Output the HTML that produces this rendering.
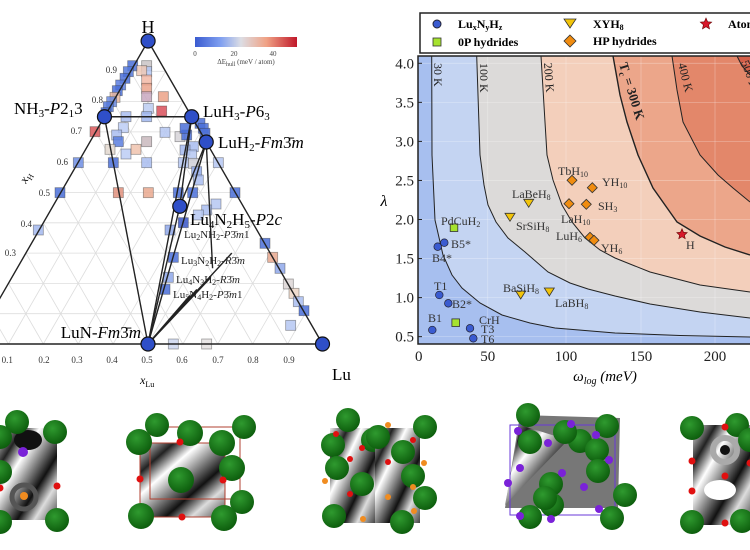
<!DOCTYPE html>
<html><head><meta charset="utf-8"><style>
html,body{margin:0;padding:0;background:#fff;}
svg{display:block;font-family:"Liberation Serif",serif;}
</style></head><body>
<svg id="s" width="750" height="550" viewBox="0 0 750 550" xmlns="http://www.w3.org/2000/svg">
<defs>
<linearGradient id="cb" x1="0" x2="1" y1="0" y2="0">
<stop offset="0" stop-color="#3a5bd0"/><stop offset="0.25" stop-color="#7f9ff0"/><stop offset="0.45" stop-color="#dcdde4"/><stop offset="0.7" stop-color="#f0a285"/><stop offset="1" stop-color="#c0182a"/>
</linearGradient>
<radialGradient id="gs" cx="0.4" cy="0.35" r="0.7"><stop offset="0" stop-color="#2f9a2f"/><stop offset="1" stop-color="#0b5a0b"/></radialGradient>
<linearGradient id="pan" x1="0" y1="0" x2="1" y2="1">
<stop offset="0" stop-color="#eee"/><stop offset="0.2" stop-color="#222"/><stop offset="0.35" stop-color="#fff"/><stop offset="0.5" stop-color="#888"/><stop offset="0.65" stop-color="#111"/><stop offset="0.8" stop-color="#ddd"/><stop offset="1" stop-color="#444"/>
</linearGradient>
<clipPath id="pc"><rect x="418" y="56" width="332" height="288"/></clipPath>
</defs>
<g id="tern"></g>
<g id="right"></g>
<g id="bottom"></g>
</svg>
<script>
var NS="http://www.w3.org/2000/svg";
function el(p,t,a,txt){var e=document.createElementNS(NS,t);for(var k in a)e.setAttribute(k,a[k]);if(txt!==undefined)e.innerHTML=txt;p.appendChild(e);return e;}
var T=document.getElementById('tern'),R=document.getElementById('right'),B=document.getElementById('bottom');
// ternary coordinate
function P(l,h){return [-26.5+l*349+h*174.6,344-h*303];}
// grid
for(var i=1;i<10;i++){var v=i/10;
 var a=P(0,v),b=P(1-v,v);el(T,'line',{x1:a[0],y1:a[1],x2:b[0],y2:b[1],stroke:'#ddd','stroke-width':0.8});
 a=P(v,0);b=P(v,1-v);el(T,'line',{x1:a[0],y1:a[1],x2:b[0],y2:b[1],stroke:'#ddd','stroke-width':0.8});
 a=P(v,0);b=P(0,v);el(T,'line',{x1:a[0],y1:a[1],x2:b[0],y2:b[1],stroke:'#ddd','stroke-width':0.8});
}
// squares
var sq=[[398,197,'#4a6fd8'],[385,215,'#5579dc'],[375,235,'#4a6fd8'],[362,255,'#5a7de0'],[352,272,'#4a6fd8'],[345,292,'#e9b7a0'],[335,305,'#6a8ae0'],[325,320,'#5579dc'],[318,338,'#4a6fd8'],
[440,197,'#c9c4c6'],[440,215,'#b5c7f2'],[425,212,'#efc9b6'],[440,240,'#f2b9a6'],[440,265,'#eba58d'],[440,290,'#c9a8c0'],[490,290,'#eca287'],[445,325,'#bccdf2'],[485,333,'#d9505a'],[440,350,'#9fb6ee'],[378,350,'#a9bdf0'],[370,383,'#bccdf4'],[350,405,'#a9bdf0'],[355,425,'#5b7ede'],[330,448,'#e3d8cf'],[378,462,'#bccdf4'],[408,448,'#f0c3ae'],[440,425,'#c9b9bd'],[285,395,'#d9585a'],[235,488,'#6f8ee4'],[340,488,'#4a6fd8'],[440,488,'#a9bdf0'],[180,578,'#4a6fd8'],[355,578,'#e0907c'],[445,578,'#e9a88e'],[115,690,'#a3b8ee'],
[495,397,'#b5c7f2'],[540,410,'#d6d4d8'],[560,405,'#4a6fd8'],[555,385,'#4a6fd8'],[600,370,'#4a6fd8'],[610,385,'#4a6fd8'],[615,400,'#4a6fd8'],[580,440,'#a9bdf0'],[555,450,'#a3b8ee'],[575,465,'#b5c7f2'],[550,488,'#b5c7f2'],[580,490,'#d0d0d8'],[655,488,'#b5c7f2'],[590,515,'#8fa8ea'],[595,540,'#a9bdf0'],[535,578,'#4a6fd8'],[578,578,'#4a6fd8'],[705,578,'#4a6fd8'],[648,612,'#b5c7f2'],[620,630,'#a9bdf0'],[595,645,'#b5c7f2'],[550,668,'#3856c8'],[510,690,'#8fa8ea'],[520,772,'#4a6fd8'],[505,832,'#8fa8ea'],[495,868,'#4a6fd8'],
[795,730,'#4a6fd8'],[818,772,'#e9a88e'],[840,805,'#8fa8ea'],[865,852,'#ddd6d6'],[882,880,'#ecd6c6'],[895,905,'#a9bdf0'],[912,932,'#4a6fd8'],[872,976,'#b5c7f2'],[520,1032,'#ccd6ee'],[620,1032,'#e4e0e0']];
sq.forEach(function(s){el(T,'rect',{x:s[0]/3-5,y:s[1]/3-5,width:10,height:10,fill:s[2],'fill-opacity':0.85,stroke:'#333','stroke-opacity':0.45,'stroke-width':0.8});});
// edges and tie lines
var N=P(0,0),L=P(1,0),H=P(0,1),NH3=P(0,.75),LuH3=P(.25,.75),LuH2=P(1/3,2/3),LuN=P(.5,0),L425=P(4/11,5/11);
var ln=[[N,L],[N,H],[H,L],[NH3,LuH3],[NH3,LuN],[LuH3,LuN],[LuH2,LuN],[LuH3,L425],[LuH2,L425],[L425,LuN],[LuH2,P(.56,.25)],[P(.59,.3),LuN],[P(.57,.22),LuN],[P(.55,.18),LuN],[P(.54,.16),LuN]];
ln.forEach(function(q){el(T,'line',{x1:q[0][0],y1:q[0][1],x2:q[1][0],y2:q[1][1],stroke:'#222','stroke-width':1.4});});
[H,L,LuN,NH3,LuH3,LuH2,L425].forEach(function(p){el(T,'circle',{cx:p[0],cy:p[1],r:7,fill:'#2f4fc8',stroke:'#111','stroke-width':1.2});});
// small phase squares on tie region
// tick labels
var bt=[[7.3,'0.1'],[44,'0.2'],[77,'0.3'],[112,'0.4'],[147,'0.5'],[182,'0.6'],[218,'0.7'],[253,'0.8'],[289,'0.9']];
bt.forEach(function(t){el(T,'text',{x:t[0],y:363,'font-size':9,'text-anchor':'middle',fill:'#333'},t[1]);});
var lt=[[117,73,'0.9'],[103,103,'0.8'],[82,134,'0.7'],[68,165,'0.6'],[50,196,'0.5'],[32,227,'0.4'],[16,256,'0.3']];
lt.forEach(function(t){el(T,'text',{x:t[0],y:t[1],'font-size':9,'text-anchor':'end',fill:'#333'},t[2]);});
el(T,'text',{x:148,y:33,'font-size':18,'text-anchor':'middle'},'H');
el(T,'text',{x:14,y:114,'font-size':17},'NH<tspan font-size="11" dy="3">3</tspan><tspan dy="-3">-</tspan><tspan font-style="italic">P</tspan>2<tspan font-size="11" dy="3">1</tspan><tspan dy="-3">3</tspan>');
el(T,'text',{x:203,y:117,'font-size':17},'LuH<tspan font-size="11" dy="3">3</tspan><tspan dy="-3">-</tspan><tspan font-style="italic">P</tspan>6<tspan font-size="11" dy="3">3</tspan>');
el(T,'text',{x:218,y:148,'font-size':17},'LuH<tspan font-size="11" dy="3">2</tspan><tspan dy="-3">-</tspan><tspan font-style="italic">Fm</tspan>3&#772;<tspan font-style="italic">m</tspan>');
el(T,'text',{x:190,y:225,'font-size':17},'Lu<tspan font-size="11" dy="3">4</tspan><tspan dy="-3">N</tspan><tspan font-size="11" dy="3">2</tspan><tspan dy="-3">H</tspan><tspan font-size="11" dy="3">5</tspan><tspan dy="-3">-</tspan><tspan font-style="italic">P</tspan>2<tspan font-style="italic">c</tspan>');
var sm=[[184,238,'Lu<tspan font-size="8" dy="2">2</tspan><tspan dy="-2">NH</tspan><tspan font-size="8" dy="2">2</tspan><tspan dy="-2">-</tspan><tspan font-style="italic">P</tspan>3&#772;<tspan font-style="italic">m</tspan>1'],
[181,264,'Lu<tspan font-size="8" dy="2">3</tspan><tspan dy="-2">N</tspan><tspan font-size="8" dy="2">2</tspan><tspan dy="-2">H</tspan><tspan font-size="8" dy="2">2</tspan><tspan dy="-2">-</tspan><tspan font-style="italic">R</tspan>3&#772;<tspan font-style="italic">m</tspan>'],
[176,283,'Lu<tspan font-size="8" dy="2">4</tspan><tspan dy="-2">N</tspan><tspan font-size="8" dy="2">3</tspan><tspan dy="-2">H</tspan><tspan font-size="8" dy="2">2</tspan><tspan dy="-2">-</tspan><tspan font-style="italic">R</tspan>3&#772;<tspan font-style="italic">m</tspan>'],
[173,298,'Lu<tspan font-size="8" dy="2">5</tspan><tspan dy="-2">N</tspan><tspan font-size="8" dy="2">4</tspan><tspan dy="-2">H</tspan><tspan font-size="8" dy="2">2</tspan><tspan dy="-2">-</tspan><tspan font-style="italic">P</tspan>3&#772;<tspan font-style="italic">m</tspan>1']];
sm.forEach(function(t){el(T,'text',{x:t[0],y:t[1],'font-size':11,fill:'#222'},t[2]);});
el(T,'text',{x:141,y:338,'font-size':17,'text-anchor':'end'},'LuN-<tspan font-style="italic">Fm</tspan>3&#772;<tspan font-style="italic">m</tspan>');
el(T,'text',{x:332,y:380,'font-size':17},'Lu');
el(T,'text',{x:140,y:384,'font-size':12,'font-style':'italic'},'x<tspan font-size="8" dy="3" font-style="normal">Lu</tspan>');
el(T,'text',{x:0,y:0,'font-size':12,'font-style':'italic',transform:'translate(26,184) rotate(-60)'},'x<tspan font-size="8" dy="3" font-style="normal">H</tspan>');
// colorbar
el(T,'rect',{x:195,y:37,width:102,height:10,fill:'url(#cb)'});
el(T,'text',{x:195,y:56,'font-size':7,'text-anchor':'middle',fill:'#444'},'0');
el(T,'text',{x:234,y:56,'font-size':7,'text-anchor':'middle',fill:'#444'},'20');
el(T,'text',{x:273,y:56,'font-size':7,'text-anchor':'middle',fill:'#444'},'40');
el(T,'text',{x:246,y:64,'font-size':7,'text-anchor':'middle',fill:'#444'},'ΔE<tspan font-size="6" dy="2">hull</tspan><tspan dy="-2"> (meV / atom)</tspan>');

// ---------- right plot ----------
var curves={
c30:[[431.7,56],[432,155],[435,220],[443,255],[452,275],[462,288],[480,303],[502,315],[530,323],[555,328],[615,333],[680,335.5],[750,337]],
c100:[[476.7,56],[480,155],[484,185],[488,205],[496,222],[508,238],[525,252],[548,272],[570,283],[588,289],[615,296],[650,304],[700,312],[750,318]],
c200:[[541,56],[547,155],[553,180],[562,205],[572,222],[585,238],[600,250],[615,258],[650,272],[700,285],[750,292]],
c300:[[613,56],[620,95],[627,122],[638,155],[653,188],[677,222],[700,236],[725,247],[750,255]],
c400:[[672,56],[677,90],[683,122],[700,155],[718,175],[733,188],[750,202]],
c500:[[737,56],[742,66],[750,75]]};
var G=el(R,'g',{'clip-path':'url(#pc)'});
el(G,'rect',{x:418,y:56,width:332,height:288,fill:'#d5604a'});
var order=[['c500','#e3876a'],['c400','#eca68a'],['c300','#f3cfbb'],['c200','#dcdad9'],['c100','#c4d4f2'],['c30','#a7bfef']];
function pth(pts){return pts.map(function(p,i){return (i?'L':'M')+p[0]+' '+p[1];}).join(' ');}
order.forEach(function(o){var pts=curves[o[0]];el(G,'path',{d:pth(pts)+' L750 344 L418 344 L418 56 Z',fill:o[1]});});
// grid
[487.7,566,641,715].forEach(function(x){el(G,'line',{x1:x,y1:56,x2:x,y2:344,stroke:'#fff','stroke-opacity':0.3,'stroke-width':0.8});});
for(var k=0;k<8;k++){var y=63.3+k*39.05;el(G,'line',{x1:418,y1:y,x2:750,y2:y,stroke:'#fff','stroke-opacity':0.3,'stroke-width':0.8});}
['c30','c100','c200','c300','c400','c500'].forEach(function(c){el(G,'path',{d:pth(curves[c]),fill:'none',stroke:'#222','stroke-width':c=='c300'?1.4:1});});
// contour labels
function rt(x,y,rot,s,txt,w){el(G,'text',{x:0,y:0,'font-size':s,transform:'translate('+x+','+y+') rotate('+rot+')','font-weight':w||'normal',fill:'#222'},txt);}
rt(434,63,90,12,'30 K');rt(480,63,90,12,'100 K');rt(544,63,86,12,'200 K');
rt(619,64,73,13,'T<tspan font-size="9" dy="3">c</tspan><tspan dy="-3"> = 300 K</tspan>','bold');
rt(678,64,76,12,'400 K');rt(741,62,70,12,'500 K');
el(R,'rect',{x:418,y:56,width:340,height:288,fill:'none',stroke:'#222','stroke-width':1.5});
// ticks labels
var yl=['4.0','3.5','3.0','2.5','2.0','1.5','1.0','0.5'];
yl.forEach(function(t,i){var y=63.3+i*39.05;el(R,'text',{x:414,y:y+5,'font-size':15,'text-anchor':'end',fill:'#222'},t);el(R,'line',{x1:418,y1:y,x2:422,y2:y,stroke:'#222'});});
[[418.7,'0'],[487.7,'50'],[566,'100'],[641,'150'],[715,'200']].forEach(function(t){el(R,'text',{x:t[0],y:361,'font-size':15,'text-anchor':'middle',fill:'#222'},t[1]);});
el(R,'text',{x:384,y:206,'font-size':16,'font-style':'italic','text-anchor':'middle'},'λ');
el(R,'text',{x:605,y:381,'font-size':15,'text-anchor':'middle','font-style':'italic'},'ω<tspan font-size="10" dy="3">log</tspan><tspan dy="-3"> (meV)</tspan>');
// legend
el(R,'rect',{x:420,y:13,width:340,height:40,fill:'#fff',stroke:'#222','stroke-width':1.5});
el(R,'circle',{cx:437,cy:24,r:4,fill:'#3a5bd0',stroke:'#223'});
el(R,'text',{x:458,y:28,'font-size':12,'font-weight':'bold'},'Lu<tspan font-size="8" dy="2">x</tspan><tspan dy="-2">N</tspan><tspan font-size="8" dy="2">y</tspan><tspan dy="-2">H</tspan><tspan font-size="8" dy="2">z</tspan>');
el(R,'rect',{x:433,y:38,width:8,height:8,fill:'#a6e22e',stroke:'#333','stroke-width':0.8});
el(R,'text',{x:458,y:46,'font-size':12,'font-weight':'bold'},'0P hydrides');
el(R,'path',{d:'M564 19 L576 19 L570 28 Z',fill:'#f2c40a',stroke:'#333','stroke-width':0.8});
el(R,'text',{x:593,y:28,'font-size':12,'font-weight':'bold'},'XYH<tspan font-size="8" dy="2">8</tspan>');
el(R,'path',{d:'M570 35 L576 41 L570 47 L564 41 Z',fill:'#f08c10',stroke:'#333','stroke-width':0.8});
el(R,'text',{x:593,y:45,'font-size':12,'font-weight':'bold'},'HP hydrides');
function star(p,cx,cy,r){var d='';for(var i=0;i<10;i++){var a=-Math.PI/2+i*Math.PI/5,rr=i%2?r*0.45:r;d+=(i?'L':'M')+(cx+rr*Math.cos(a)).toFixed(1)+' '+(cy+rr*Math.sin(a)).toFixed(1);}el(p,'path',{d:d+'Z',fill:'#d8182a',stroke:'#600','stroke-width':0.6});}
star(R,706,24,6);
el(R,'text',{x:728,y:28,'font-size':12,'font-weight':'bold'},'Atomic H');
// data points
var circ=[[432.3,330],[437.7,246.7],[444.3,242.7],[439.3,295],[448.3,303.3],[470,328.3],[473.3,338.3]];
circ.forEach(function(c){el(R,'circle',{cx:c[0],cy:c[1],r:3.8,fill:'#3a5bd0',stroke:'#223','stroke-width':0.7});});
[[454,227.7],[455.7,322.7]].forEach(function(c){el(R,'rect',{x:c[0]-3.8,y:c[1]-3.8,width:7.6,height:7.6,fill:'#a6e22e',stroke:'#333','stroke-width':0.8});});
[[528.7,203.3],[510,217.3],[520.7,295],[549.3,292]].forEach(function(c){el(R,'path',{d:'M'+(c[0]-5)+' '+(c[1]-4)+' L'+(c[0]+5)+' '+(c[1]-4)+' L'+c[0]+' '+(c[1]+4)+' Z',fill:'#f2c40a',stroke:'#333','stroke-width':0.8});});
[[572,180.3],[592.3,187.7],[569,203.7],[586.3,204.3],[590,237.3],[594,240.3]].forEach(function(c){el(R,'path',{d:'M'+c[0]+' '+(c[1]-5)+' L'+(c[0]+5)+' '+c[1]+' L'+c[0]+' '+(c[1]+5)+' L'+(c[0]-5)+' '+c[1]+' Z',fill:'#f08c10',stroke:'#333','stroke-width':0.8});});
star(R,682,234.3,5.5);
function lab(x,y,t){el(R,'text',{x:x,y:y,'font-size':12,fill:'#333'},t);}
function sub(a,n,b){return a+'<tspan font-size="8" dy="2">'+n+'</tspan>'+(b?'<tspan dy="-2">'+b+'</tspan>':'');}
lab(428,322,'B1');lab(434,290,'T1');lab(452,308,'B2*');lab(479,324,'CrH');lab(481,333,'T3');lab(481,343,'T6');
lab(432,262,'B4*');lab(451,248,'B5*');lab(441,225,sub('PdCuH','2'));
lab(512,198,sub('LaBeH','8'));lab(516,230,sub('SrSiH','8'));lab(503,292,sub('BaSiH','8'));lab(555,307,sub('LaBH','8'));
lab(558,175,sub('TbH','10'));lab(602,186,sub('YH','10'));lab(598,210,sub('SH','3'));lab(561,223,sub('LaH','10'));lab(556,240,sub('LuH','6'));lab(601,252,sub('YH','6'));lab(686,249,'H');

// ---------- bottom structures ----------
function panel(x,y,w,h){el(B,'rect',{x:x,y:y,width:w,height:h,fill:'url(#pan)'});}
function g(cx,cy,r){el(B,'circle',{cx:cx,cy:cy,r:r||12,fill:'url(#gs)'});}
function dot(cx,cy,c,r){el(B,'circle',{cx:cx,cy:cy,r:r||3.5,fill:c});}
panel(0,428,57,92);
el(B,'circle',{cx:24,cy:497,r:12,fill:'none',stroke:'#555','stroke-width':5});
el(B,'ellipse',{cx:28,cy:440,rx:14,ry:10,fill:'#111'});
[[17,422],[55,432],[0,437],[0,472],[57,520],[0,522]].forEach(function(p){g(p[0],p[1]);});
dot(23,452,'#7a22d8',5);dot(24,496,'#f08c20',4);dot(57,486,'#e01010');dot(0,488,'#e01010');
panel(140,443,85,74);
el(B,'rect',{x:140,y:443,width:85,height:74,fill:'none',stroke:'#b04030','stroke-width':1});
el(B,'rect',{x:150,y:427,width:90,height:72,fill:'none',stroke:'#b04030','stroke-width':1});
[[157,425],[244,427],[190,433],[139,442],[222,443],[232,468],[181,480],[242,502],[141,516],[224,518]].forEach(function(p){g(p[0],p[1],p[0]==157||p[0]==244||p[0]==242?12:13);});
[[180,442],[140,479],[223,480],[182,517]].forEach(function(p){dot(p[0],p[1],'#e01010');});
panel(330,428,45,95);
[[348,420],[333,445],[337,468],[362,484],[373,440],[334,516]].forEach(function(p){g(p[0],p[1]);});
[[336,434],[362,448],[350,459],[325,481],[350,494],[363,519]].forEach(function(p){dot(p[0],p[1],p[0]%2?'#f08c20':'#e01010',3);});
panel(375,428,45,95);
[[378,437],[403,452],[425,427],[413,476],[425,498],[402,522]].forEach(function(p){g(p[0],p[1]);});
[[388,425],[413,440],[424,463],[388,462],[388,497],[413,487],[414,511]].forEach(function(p){dot(p[0],p[1],p[1]%2?'#f08c20':'#e01010',3);});
el(B,'path',{d:'M520 415 L620 418 L618 508 L505 508 Z',fill:'#777'});
el(B,'path',{d:'M520 425 L568 440 L505 505 Z',fill:'url(#pan)'});
el(B,'rect',{x:510,y:425,width:105,height:90,fill:'none',stroke:'#6a3ad8','stroke-width':1});
[[530,442],[530,517],[580,441],[607,426],[551,484],[597,450],[598,471],[552,505],[612,518],[625,495],[528,415],[565,432],[545,498]].forEach(function(p){g(p[0],p[1],12);});
[[518,431],[548,443],[571,424],[596,435],[508,483],[562,473],[584,487],[520,516],[551,519],[599,509],[520,468],[609,460]].forEach(function(p){dot(p[0],p[1],'#7a22d8',4);});
panel(693,425,57,100);
el(B,'circle',{cx:725,cy:450,r:12,fill:'none',stroke:'#aaa','stroke-width':6});dot(725,450,'#111',5);
el(B,'ellipse',{cx:720,cy:490,rx:16,ry:10,fill:'#fff'});
[[692,428],[737,425],[750,440],[692,522],[742,521]].forEach(function(p){g(p[0],p[1]);});
[[692,461],[692,491],[725,476],[725,523],[750,463],[725,427]].forEach(function(p){dot(p[0],p[1],'#e01010');});
</script>
</body></html>
